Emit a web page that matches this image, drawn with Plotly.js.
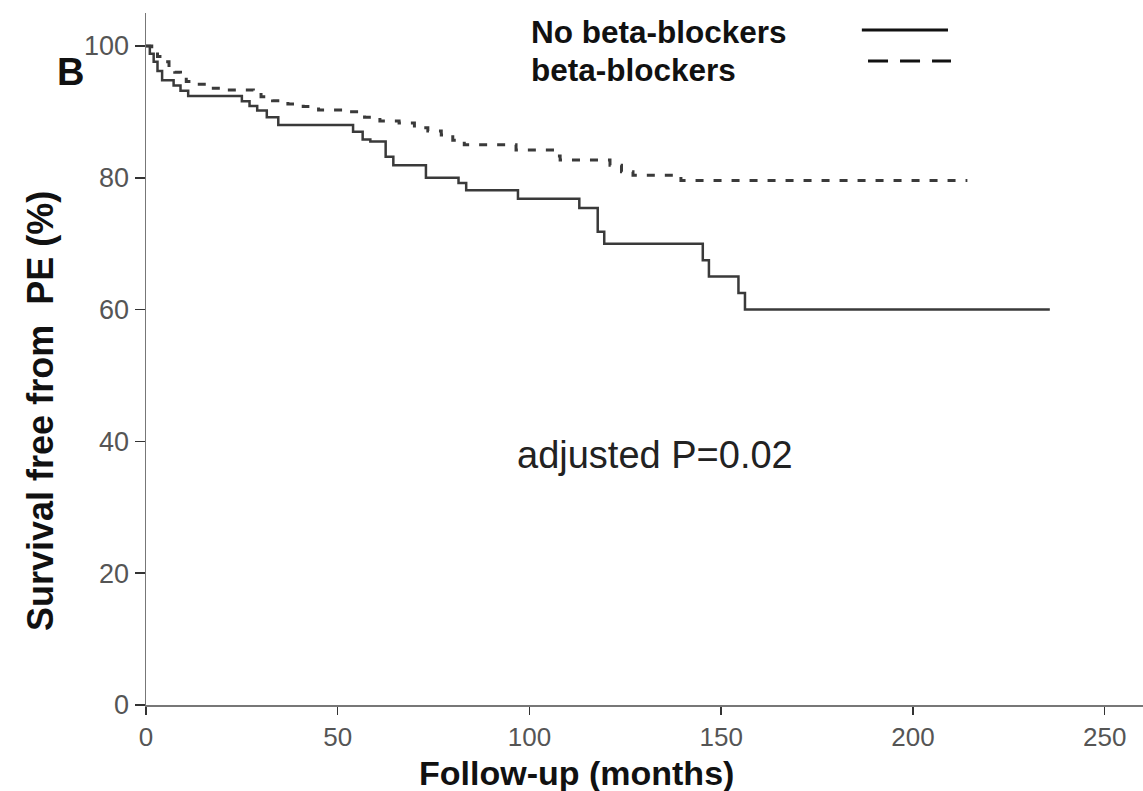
<!DOCTYPE html>
<html>
<head>
<meta charset="utf-8">
<script src="https://cdn.plot.ly/plotly-3.0.1.min.js"></script>
<style>
  html, body { margin: 0; padding: 0; background: #fff; }
  #chart { width: 1143px; height: 791px; }
</style>
</head>
<body>
<div id="chart"></div>
<script>
// Kaplan-Meier steps: time (months) at which survival changes, and new survival (%)
const noBetaTime = [0, 1, 2, 3, 4.2, 7.2, 9, 11, 25, 27, 29, 31.5, 34.5, 54, 56.5, 58.5, 62.5, 64.5, 73, 81.5, 83.5, 97, 113, 117.8, 119.5, 145.2, 146.8, 154.5, 156.2, 235.7];
const noBetaSurv = [100, 98.8, 97.6, 96.2, 94.8, 94.0, 93.2, 92.4, 91.6, 90.9, 90.2, 89.2, 88.0, 87.0, 85.8, 85.5, 83.2, 81.9, 80.0, 79.2, 78.1, 76.8, 75.4, 71.8, 70.0, 67.5, 65.0, 62.5, 60.0, 60.0];

const betaTime = [0, 1.5, 3, 4.5, 6, 7.5, 9, 10.5, 13, 17, 21, 28, 30, 33, 37, 41, 45, 53, 57, 61, 66, 70, 73.5, 77, 80, 83, 96.5, 106, 108, 121, 124, 127, 139.5, 214.2];
const betaSurv = [100, 99.2, 98.4, 97.6, 96.8, 96.0, 95.2, 94.6, 94.2, 93.6, 93.3, 93.0, 92.3, 91.7, 91.2, 90.8, 90.3, 90.0, 89.2, 88.6, 88.3, 87.6, 87.1, 86.5, 85.7, 85.0, 84.2, 83.3, 82.7, 81.9, 80.9, 80.4, 79.6, 79.6];

const xTicks = [0, 50, 100, 150, 200, 250];
const yTicks = [0, 20, 40, 60, 80, 100];

const seriesNames = ['No beta-blockers', 'beta-blockers'];
const annotationText = 'adjusted P=0.02';
const panelLabel = 'B';
const xTitle = 'Follow-up (months)';
const yTitle = 'Survival free from  PE (%)';

const FONT = 'Arial, "Liberation Sans", Helvetica, sans-serif';

const traces = [
  {
    x: noBetaTime, y: noBetaSurv, name: seriesNames[0],
    type: 'scatter', mode: 'lines',
    line: { shape: 'hv', color: '#3a3a3a', width: 2.5 },
    hoverinfo: 'skip'
  },
  {
    x: betaTime, y: betaSurv, name: seriesNames[1],
    type: 'scatter', mode: 'lines',
    line: { shape: 'hv', color: '#3a3a3a', width: 3, dash: '8px,10px' },
    hoverinfo: 'skip'
  }
];

const layout = {
  width: 1143, height: 791,
  margin: { l: 146, r: 0, t: 13, b: 86, pad: 0 },
  paper_bgcolor: '#ffffff', plot_bgcolor: '#ffffff',
  showlegend: false,
  font: { family: FONT, color: '#555' },
  xaxis: {
    range: [0, 260], tickvals: xTicks, ticktext: xTicks.map(String),
    ticks: 'outside', ticklen: 8, tickwidth: 1.5, tickcolor: '#333',
    showline: true, linecolor: '#777', linewidth: 2,
    showgrid: false, zeroline: false, fixedrange: true,
    tickfont: { family: FONT, size: 26, color: '#555' }
  },
  yaxis: {
    range: [0, 105], tickvals: yTicks, ticktext: yTicks.map(String),
    ticks: 'outside', ticklen: 10, tickwidth: 1.5, tickcolor: '#333',
    showline: true, linecolor: '#777', linewidth: 1.5,
    showgrid: false, zeroline: false, fixedrange: true,
    ticklabelstandoff: 0,
    tickfont: { family: FONT, size: 27, color: '#555' }
  },
  annotations: [
    { text: '<b>' + xTitle + '</b>', xref: 'paper', yref: 'paper', x: 0.4313, y: -0.098,
      xanchor: 'center', yanchor: 'middle', showarrow: false,
      font: { family: FONT, size: 34, color: '#111' } },
    { text: '<b>' + yTitle + '</b>', xref: 'paper', yref: 'paper', x: -0.1053, y: 0.4249,
      xanchor: 'center', yanchor: 'middle', textangle: -90, showarrow: false,
      font: { family: FONT, size: 36, color: '#111' } },
    { text: '<b>' + panelLabel + '</b>', xref: 'paper', yref: 'paper', x: -0.0762, y: 0.9147,
      xanchor: 'center', yanchor: 'middle', showarrow: false,
      font: { family: FONT, size: 38, color: '#111' } },
    { text: annotationText, xref: 'paper', yref: 'paper', x: 0.5105, y: 0.3613,
      xanchor: 'center', yanchor: 'middle', showarrow: false,
      font: { family: FONT, size: 38, color: '#222' } },
    { text: '<b>' + seriesNames[0] + '</b>', xref: 'paper', yref: 'paper', x: 0.384, y: 0.9725,
      xanchor: 'left', yanchor: 'middle', showarrow: false,
      font: { family: FONT, size: 31.5, color: '#111' } },
    { text: '<b>' + seriesNames[1] + '</b>', xref: 'paper', yref: 'paper', x: 0.384, y: 0.9176,
      xanchor: 'left', yanchor: 'middle', showarrow: false,
      font: { family: FONT, size: 31.5, color: '#111' } }
  ],
  shapes: [
    { type: 'line', xref: 'paper', yref: 'paper', x0: 0.718, x1: 0.8044, y0: 0.9754, y1: 0.9754,
      line: { color: '#111', width: 3 } },
    { type: 'line', xref: 'paper', yref: 'paper', x0: 0.7242, x1: 0.8074, y0: 0.9306, y1: 0.9306,
      line: { color: '#111', width: 3, dash: '20px,12px' } }
  ]
};

Plotly.newPlot('chart', traces, layout, { staticPlot: true, displayModeBar: false });
</script>
</body>
</html>
